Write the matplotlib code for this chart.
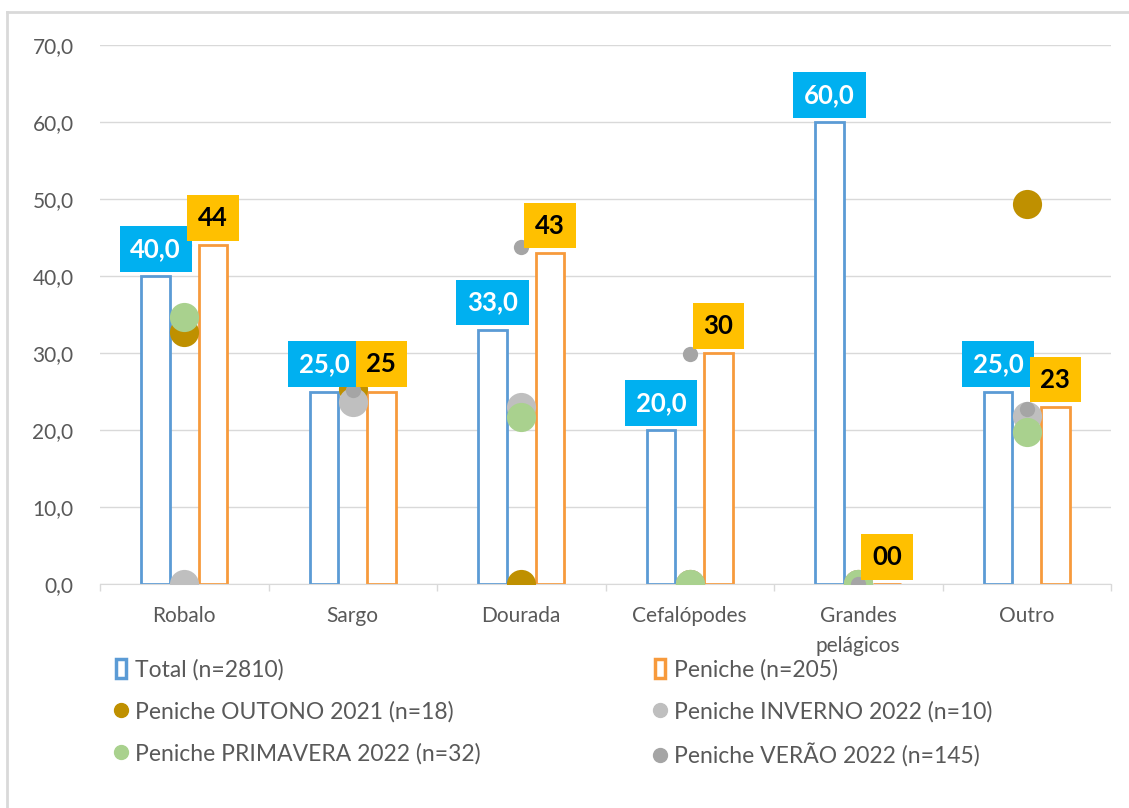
import matplotlib
matplotlib.use("Agg")
import matplotlib.pyplot as plt
from matplotlib.lines import Line2D
from matplotlib.patches import Patch
import numpy as np

plt.rcParams['font.family'] = ['Lato', 'DejaVu Sans']

# data
categories = ["Robalo", "Sargo", "Dourada", "Cefalópodes", "Grandes\npelágicos", "Outro"]
total = [40.0, 25.0, 33.0, 20.0, 60.0, 25.0]
peniche = [44, 25, 43, 30, 0, 23]
outono_2021 = [32.7, 25.3, 0, 0, 0, 49.3]
inverno_2022 = [0, 23.6, 23.0, 0, 0, 21.8]
primavera_2022 = [34.7, 27.5, 21.7, 0, 0, 19.7]
verao_2022 = [44, 25.2, 43.8, 29.9, 0, 22.7]

grey_text = "#595959"
grid_col = "#D9D9D9"

fig = plt.figure(figsize=(11.29, 8.08), dpi=100)
ax = fig.add_axes([100 / 1129, 224 / 808, 1011 / 1129, 539 / 808])

x = np.arange(len(categories))
w = 0.17

ax.bar(x - 0.17, total, width=w, facecolor="white", edgecolor="#5B9BD5", linewidth=2, zorder=2)
ax.bar(x + 0.17, peniche, width=w, facecolor="white", edgecolor="#F79A3C", linewidth=2, zorder=2)

big = 21
small = 11
ax.plot(x, outono_2021, "o", color="#BF9000", markersize=big, markeredgewidth=0, zorder=3)
ax.plot(x, inverno_2022, "o", color="#BFBFBF", markersize=big, markeredgewidth=0, zorder=3)
ax.plot(x, primavera_2022, "o", color="#A9D18E", markersize=big, markeredgewidth=0, zorder=3)
ax.plot(x, verao_2022, "o", color="#A5A5A5", markersize=small, markeredgewidth=0, zorder=3)

# data labels
for xi, v in zip(x, total):
    ax.annotate(f"{v:.1f}".replace(".", ","), (xi - 0.17, v), xytext=(0, 11),
                textcoords="offset points", ha="center", va="bottom",
                fontsize=18.5, fontweight="bold", color="white", zorder=6,
                bbox=dict(boxstyle="square,pad=0.42", fc="#00B0F0", ec="none"))
for xi, v in zip(x, peniche):
    ax.annotate(f"{v:02d}", (xi + 0.17, v), xytext=(0, 11),
                textcoords="offset points", ha="center", va="bottom",
                fontsize=18.5, fontweight="bold", color="black", zorder=6,
                bbox=dict(boxstyle="square,pad=0.42", fc="#FFC000", ec="none"))

ax.set_xlim(-0.5, len(categories) - 0.5)
ax.set_ylim(0, 70)
ax.set_yticks(np.arange(0, 71, 10))
ax.set_yticklabels([f"{v:.1f}".replace(".", ",") for v in np.arange(0, 71, 10)])
ax.set_xticks(x)
ax.set_xticklabels(categories, linespacing=1.6)
ax.set_xticks(np.arange(-0.5, len(categories)), minor=True)
ax.tick_params(axis="y", length=0, pad=19, labelsize=15, labelcolor=grey_text)
ax.tick_params(axis="x", which="major", length=0, pad=16, labelsize=15, labelcolor=grey_text)
ax.tick_params(axis="x", which="minor", length=5, color=grid_col, width=1)
ax.grid(axis="y", color=grid_col, linewidth=1, zorder=0)
ax.set_axisbelow(True)
for s in ["top", "right", "left"]:
    ax.spines[s].set_visible(False)
ax.spines["bottom"].set_color(grid_col)

# legend in two columns
h_total = Patch(facecolor="white", edgecolor="#5B9BD5", linewidth=2.5, label="Total (n=2810)")
h_pen = Patch(facecolor="white", edgecolor="#F79A3C", linewidth=2.5, label="Peniche (n=205)")
h_out = Line2D([], [], marker="o", ls="", color="#BF9000", markersize=10, label="Peniche OUTONO 2021 (n=18)")
h_inv = Line2D([], [], marker="o", ls="", color="#BFBFBF", markersize=10, label="Peniche INVERNO 2022 (n=10)")
h_pri = Line2D([], [], marker="o", ls="", color="#A9D18E", markersize=10, label="Peniche PRIMAVERA 2022 (n=32)")
h_ver = Line2D([], [], marker="o", ls="", color="#A5A5A5", markersize=10, label="Peniche VERÃO 2022 (n=145)")

leg_kw = dict(loc="upper left", frameon=False, fontsize=16.5, labelcolor=grey_text,
              handlelength=0.45, handleheight=0.85, handletextpad=0.4, labelspacing=0.9,
              borderpad=0, borderaxespad=0)
leg1 = fig.legend(handles=[h_total, h_out, h_pri], bbox_to_anchor=(116 / 1129, 1 - 659 / 808), **leg_kw)
leg2 = fig.legend(handles=[h_pen, h_inv, h_ver], bbox_to_anchor=(655 / 1129, 1 - 659 / 808), **leg_kw)

# outer chart frame (cut by the image edge)
fig.add_artist(Line2D([7 / 1129, 7 / 1129], [0, 1 - 12 / 808], transform=fig.transFigure, color=grid_col, lw=2))
fig.add_artist(Line2D([7 / 1129, 1], [1 - 12 / 808, 1 - 12 / 808], transform=fig.transFigure, color=grid_col, lw=2))

fig.savefig("out.png", dpi=100)
